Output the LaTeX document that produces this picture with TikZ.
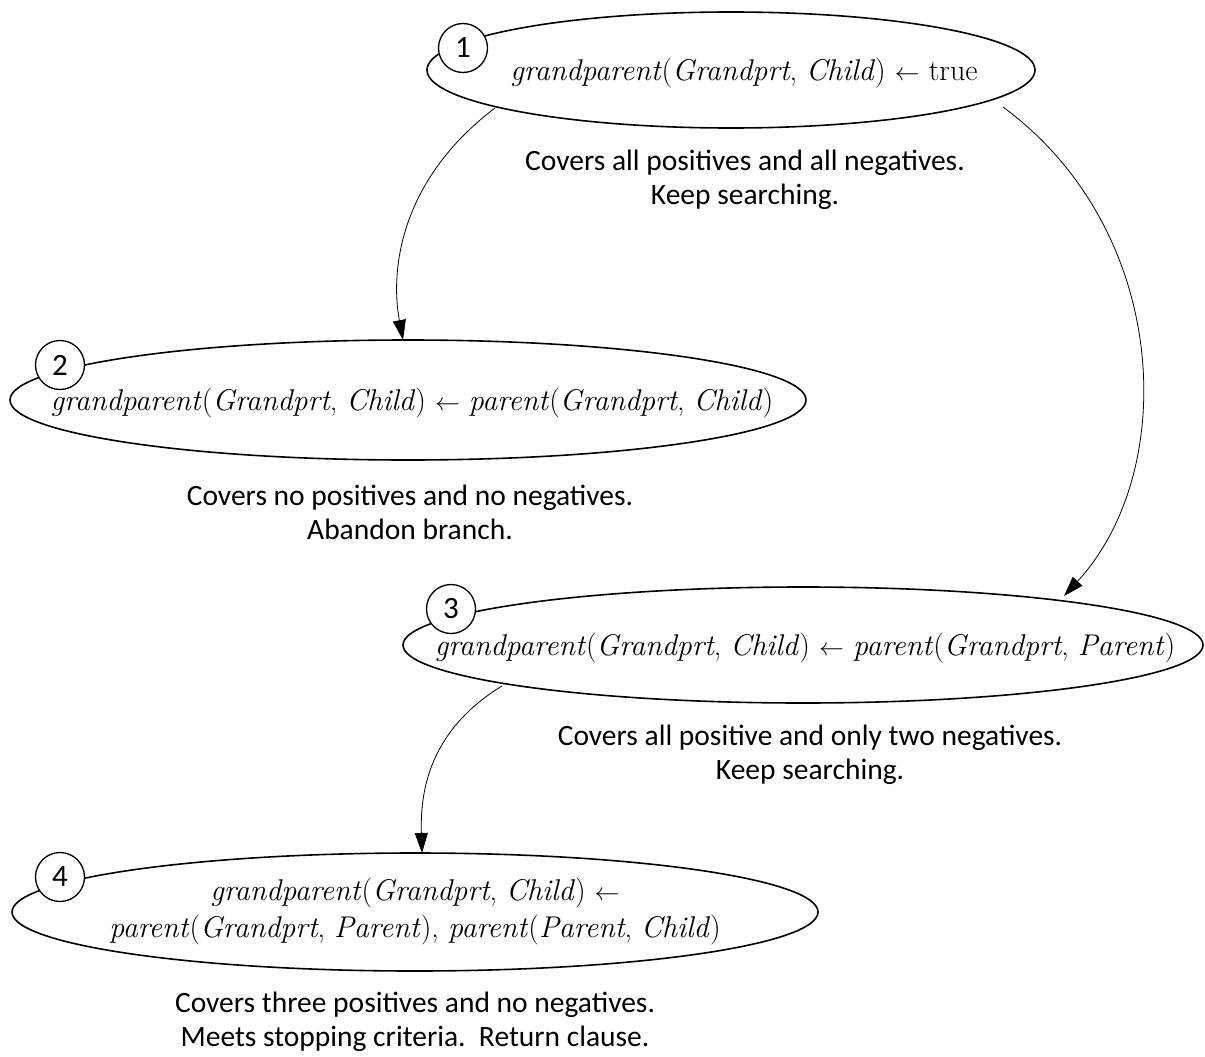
\documentclass[tikz,border=0pt]{standalone}
\usepackage{fontspec}
\setsansfont{Carlito}
\usetikzlibrary{shapes.geometric,arrows.meta}
\newcommand{\gp}{\textit{grandparent}(\textit{Grandprt}, \textit{Child})}
\newcommand{\lar}{\ensuremath{\leftarrow}}
\begin{document}
\begin{tikzpicture}[x=1pt,y=-1pt,
  clause/.style={ellipse, draw, line width=1.6pt, inner sep=0pt},
  stepnum/.style={circle, draw, line width=1.3pt, fill=white, minimum size=49pt, inner sep=0pt,
    font=\sffamily\fontsize{31}{34}\selectfont},
  formula/.style={font=\fontsize{30}{37}\selectfont, align=center, inner sep=0pt},
  remark/.style={font=\sffamily\fontsize{29.5}{34}\selectfont, align=center, inner sep=0pt},
  link/.style={line width=0.8pt, -{Triangle[length=20pt,width=13pt]}}]
\useasboundingbox (0,0) rectangle (1205,1057);

% clause ellipses
\node[clause, minimum width=608pt, minimum height=116pt] (e1) at (731,70) {};
\node[clause, minimum width=796pt, minimum height=120pt] (e2) at (408,400) {};
\node[clause, minimum width=800pt, minimum height=116pt] (e3) at (803,645) {};
\node[clause, minimum width=806pt, minimum height=118pt] (e4) at (415,912) {};

% clause texts
\node[formula] (f1) at (744,73) {\gp{} \lar{} true};
\node[formula] (f2) at (412,403) {\gp{} \lar{} \textit{parent}(\textit{Grandprt}, \textit{Child})};
\node[formula] (f3) at (805,648) {\gp{} \lar{} \textit{parent}(\textit{Grandprt}, \textit{Parent})};
\node[formula] (f4) at (415,912) {\gp{} \lar{}\\ \textit{parent}(\textit{Grandprt}, \textit{Parent}), \textit{parent}(\textit{Parent}, \textit{Child})};

% step numbers
\node[stepnum] (c1) at (463,48) {1};
\node[stepnum] (c2) at (60,365) {2};
\node[stepnum] (c3) at (451,609) {3};
\node[stepnum] (c4) at (60,877) {4};

% remarks
\node[remark] (r1) at (745,180) {Covers all positives and all negatives.\\ Keep searching.};
\node[remark] (r2) at (410,512) {Covers no positives and no negatives.\\ Abandon branch.};
\node[remark] (r3) at (810,755) {Covers all positive and only two negatives.\\ Keep searching.};
\node[remark] (r4) at (415,1022) {Covers three positives and no negatives.\\ Meets stopping criteria.\ \ Return clause.};

% refinement links
\draw[link] (495,108) .. controls (400,180) and (390,270) .. (403,340);
\draw[link] (1003,107) .. controls (1170,230) and (1180,470) .. (1064,596);
\draw[link] (502,686) .. controls (430,730) and (420,790) .. (422,853);
\end{tikzpicture}
\end{document}
